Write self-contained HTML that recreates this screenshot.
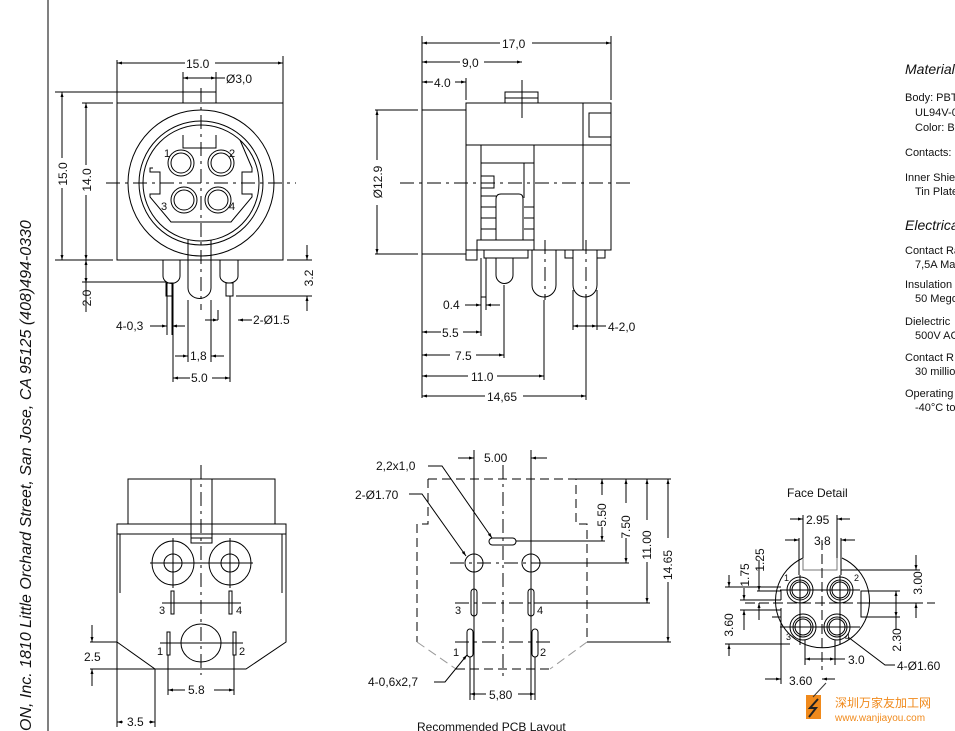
<!DOCTYPE html>
<html><head><meta charset="utf-8"><style>
html,body{margin:0;padding:0;background:#fff;width:955px;height:731px;overflow:hidden}
svg{display:block}
text{font-family:"Liberation Sans",Arial,sans-serif;fill:#111;font-size:12px}
.t{font-size:11px}
</style></head><body>
<svg width="955" height="731" viewBox="0 0 955 731" xmlns="http://www.w3.org/2000/svg">
<defs><marker id="a" viewBox="0 0 10 10" refX="10" refY="5" markerWidth="7" markerHeight="5" orient="auto-start-reverse"><path d="M0,2 L10,5 L0,8z" fill="#000"/></marker></defs>
<g stroke="#000" stroke-width="1" fill="none">
<line x1="48" y1="0" x2="48" y2="731"/>
<!-- TOP LEFT VIEW -->
<rect x="117" y="103" width="166" height="157"/>
<rect x="183" y="92" width="33" height="11"/>
<circle cx="201" cy="183" r="73"/>
<circle cx="201" cy="183" r="62"/>
<circle cx="201" cy="183" r="58"/>
<path d="M183,135 V148 H216 V135 M153,168 L150,168 V172 H160 V194 H150 V197 L171,222 H231 L252,197 V194 H242 V172 H252 V168 L240,140"/>
<g><circle cx="181" cy="163" r="13"/><circle cx="181" cy="163" r="10"/><circle cx="221" cy="163" r="13"/><circle cx="221" cy="163" r="10"/><circle cx="184" cy="200" r="13"/><circle cx="184" cy="200" r="10"/><circle cx="218" cy="200" r="13"/><circle cx="218" cy="200" r="10"/></g>
<path d="M188,240 V288 A11,10 0 0 0 211,288 V240"/>
<path d="M163,260 V276 A8,7 0 0 0 180,276 V260"/><path d="M220,260 V276 A9,7 0 0 0 238,276 V260"/>
<rect x="166" y="283" width="7" height="13"/><rect x="226" y="283" width="7" height="13"/>
<g stroke-dasharray="14,5,3,5"><line x1="201" y1="88" x2="201" y2="310"/><line x1="106" y1="183" x2="296" y2="183"/></g>
<line x1="117" y1="60" x2="117" y2="103"/><line x1="283" y1="56" x2="283" y2="103"/>
<line x1="117" y1="63" x2="185" y2="63" marker-start="url(#a)"/><line x1="215" y1="63" x2="283" y2="63" marker-end="url(#a)"/>
<line x1="183" y1="72" x2="183" y2="92"/><line x1="216" y1="72" x2="216" y2="92"/>
<line x1="183" y1="78" x2="216" y2="78" marker-start="url(#a)" marker-end="url(#a)"/><line x1="216" y1="78" x2="225" y2="78"/>
<line x1="55" y1="92" x2="183" y2="92"/><line x1="55" y1="260" x2="113" y2="260"/><line x1="82" y1="103" x2="113" y2="103"/>
<line x1="62" y1="92" x2="62" y2="158" marker-start="url(#a)"/><line x1="62" y1="188" x2="62" y2="260" marker-end="url(#a)"/>
<line x1="86" y1="103" x2="86" y2="165" marker-start="url(#a)"/><line x1="86" y1="195" x2="86" y2="260" marker-end="url(#a)"/>
<line x1="86" y1="260" x2="86" y2="283" marker-start="url(#a)" marker-end="url(#a)"/><line x1="86" y1="283" x2="86" y2="312"/>
<line x1="82" y1="282" x2="166" y2="282"/>
<line x1="287" y1="260" x2="312" y2="260"/><line x1="236" y1="296" x2="312" y2="296"/>
<line x1="307" y1="245" x2="307" y2="260" marker-end="url(#a)"/><line x1="307" y1="311" x2="307" y2="296" marker-end="url(#a)"/>
<line x1="167" y1="283" x2="167" y2="335"/><line x1="172" y1="283" x2="172" y2="335"/>
<line x1="150" y1="326" x2="167" y2="326" marker-end="url(#a)"/><line x1="185" y1="326" x2="172" y2="326" marker-end="url(#a)"/>
<line x1="188" y1="300" x2="188" y2="362"/><line x1="211" y1="300" x2="211" y2="362"/>
<line x1="173" y1="296" x2="173" y2="382"/><line x1="230" y1="296" x2="230" y2="382"/>
<line x1="175" y1="356" x2="188" y2="356" marker-end="url(#a)"/><line x1="224" y1="356" x2="211" y2="356" marker-end="url(#a)"/>
<line x1="173" y1="378" x2="190" y2="378" marker-start="url(#a)"/><line x1="212" y1="378" x2="230" y2="378" marker-end="url(#a)"/>
<line x1="205" y1="320" x2="218" y2="320" marker-end="url(#a)"/><line x1="218" y1="320" x2="218" y2="310"/>
<line x1="252" y1="320" x2="238" y2="320" marker-end="url(#a)"/>
<!-- TOP MIDDLE SIDE VIEW -->
<rect x="422" y="110" width="44" height="144"/>
<rect x="466" y="103" width="145" height="42"/>
<rect x="505" y="92" width="33" height="11"/>
<rect x="589" y="113" width="22" height="24"/>
<line x1="583" y1="103" x2="583" y2="250"/>
<rect x="466" y="145" width="145" height="105"/>
<line x1="481" y1="145" x2="481" y2="240"/><line x1="534" y1="145" x2="534" y2="250"/>
<path d="M466,250 V260 H477 V240 H534"/>
<line x1="481" y1="163" x2="534" y2="163"/><line x1="524" y1="163" x2="524" y2="198"/>
<g><line x1="481" y1="196" x2="496" y2="196"/><line x1="481" y1="207" x2="496" y2="207"/><line x1="481" y1="218" x2="496" y2="218"/><line x1="481" y1="229" x2="496" y2="229"/><line x1="524" y1="207" x2="534" y2="207"/><line x1="524" y1="218" x2="534" y2="218"/><line x1="524" y1="229" x2="534" y2="229"/></g>
<rect x="481" y="176" width="13" height="12"/>
<path d="M496,240 V199 Q496,194 501,194 H519 Q523,194 523,199 V240"/>
<rect x="484" y="250" width="44" height="8"/>
<rect x="565" y="250" width="8" height="8"/><rect x="597" y="250" width="8" height="8"/>
<path d="M496,258 V275 A8,8 0 0 0 513,275 V258"/>
<path d="M532,250 V285 A12,12 0 0 0 556,285 V250"/>
<path d="M573,250 V285 A12,12 0 0 0 597,285 V250"/>
<line x1="481" y1="258" x2="481" y2="297"/><line x1="486" y1="258" x2="486" y2="297"/><line x1="481" y1="297" x2="486" y2="297"/>
<g stroke-dasharray="14,5,3,5"><line x1="400" y1="183" x2="630" y2="183"/><line x1="545" y1="240" x2="545" y2="300"/><line x1="586" y1="240" x2="586" y2="300"/></g>
<line x1="522" y1="80" x2="522" y2="118"/><line x1="505" y1="98" x2="538" y2="98"/>
<line x1="422" y1="36" x2="422" y2="398"/><line x1="611" y1="36" x2="611" y2="100"/><line x1="466" y1="78" x2="466" y2="100"/>
<line x1="422" y1="43" x2="500" y2="43" marker-start="url(#a)"/><line x1="532" y1="43" x2="611" y2="43" marker-end="url(#a)"/>
<line x1="422" y1="62" x2="460" y2="62" marker-start="url(#a)"/><line x1="484" y1="62" x2="522" y2="62" marker-end="url(#a)"/>
<line x1="422" y1="82" x2="433" y2="82" marker-start="url(#a)"/><line x1="455" y1="82" x2="466" y2="82" marker-end="url(#a)"/>
<line x1="375" y1="110" x2="418" y2="110"/><line x1="375" y1="254" x2="418" y2="254"/>
<line x1="377" y1="110" x2="377" y2="160" marker-start="url(#a)"/><line x1="377" y1="205" x2="377" y2="254" marker-end="url(#a)"/>
<line x1="481" y1="297" x2="481" y2="336"/><line x1="486" y1="297" x2="486" y2="310"/>
<line x1="465" y1="305" x2="481" y2="305" marker-end="url(#a)"/><line x1="500" y1="305" x2="486" y2="305" marker-end="url(#a)"/>
<line x1="422" y1="332" x2="441" y2="332" marker-start="url(#a)"/><line x1="463" y1="332" x2="481" y2="332" marker-end="url(#a)"/>
<line x1="504" y1="285" x2="504" y2="358"/><line x1="544" y1="300" x2="544" y2="380"/><line x1="586" y1="300" x2="586" y2="400"/>
<line x1="422" y1="355" x2="450" y2="355" marker-start="url(#a)"/><line x1="476" y1="355" x2="504" y2="355" marker-end="url(#a)"/>
<line x1="422" y1="376" x2="468" y2="376" marker-start="url(#a)"/><line x1="497" y1="376" x2="544" y2="376" marker-end="url(#a)"/>
<line x1="422" y1="396" x2="485" y2="396" marker-start="url(#a)"/><line x1="523" y1="396" x2="586" y2="396" marker-end="url(#a)"/>
<line x1="573" y1="290" x2="573" y2="330"/><line x1="597" y1="290" x2="597" y2="330"/>
<line x1="573" y1="326" x2="597" y2="326" marker-start="url(#a)" marker-end="url(#a)"/><line x1="597" y1="326" x2="606" y2="326"/>
<!-- BOTTOM LEFT VIEW -->
<rect x="128" y="479" width="147" height="45"/>
<rect x="117" y="524" width="169" height="10"/>
<rect x="191" y="479" width="21" height="64"/><line x1="191" y1="538" x2="212" y2="538"/>
<path d="M117,534 V642 L155,669 H246 L286,642 V534"/>
<line x1="120" y1="534" x2="120" y2="593"/><line x1="282" y1="534" x2="282" y2="593"/>
<ellipse cx="173" cy="563" rx="21" ry="22"/><ellipse cx="173" cy="563" rx="9" ry="9"/>
<ellipse cx="230" cy="563" rx="21" ry="22"/><ellipse cx="230" cy="563" rx="9" ry="9"/>
<line x1="150" y1="563" x2="253" y2="563"/><line x1="173" y1="538" x2="173" y2="588"/><line x1="230" y1="538" x2="230" y2="588"/>
<rect x="171" y="591" width="3" height="23"/><rect x="229" y="591" width="3" height="23"/>
<rect x="167" y="632" width="3" height="23"/><rect x="233" y="632" width="3" height="23"/>
<ellipse cx="201" cy="643" rx="20" ry="19"/>
<line x1="162" y1="603" x2="241" y2="603"/><line x1="160" y1="643" x2="243" y2="643"/>
<g stroke-dasharray="14,5,3,5"><line x1="201" y1="465" x2="201" y2="675"/></g>
<line x1="90" y1="642" x2="117" y2="642"/><line x1="90" y1="669" x2="155" y2="669"/>
<line x1="92" y1="625" x2="92" y2="642" marker-end="url(#a)"/><line x1="92" y1="686" x2="92" y2="669" marker-end="url(#a)"/>
<line x1="117" y1="642" x2="117" y2="727"/><line x1="155" y1="669" x2="155" y2="727"/>
<line x1="117" y1="722" x2="123" y2="722" marker-start="url(#a)"/><line x1="149" y1="722" x2="155" y2="722" marker-end="url(#a)"/>
<line x1="168" y1="655" x2="168" y2="695"/><line x1="234" y1="655" x2="234" y2="695"/>
<line x1="168" y1="690" x2="185" y2="690" marker-start="url(#a)"/><line x1="214" y1="690" x2="234" y2="690" marker-end="url(#a)"/>
<!-- PCB LAYOUT -->
<g stroke-dasharray="9,5"><path d="M428,479 H576 V524 H587 V642 M428,479 V524 H417 V642 M456,669 H550"/></g>
<path d="M417,642 L456,669 M587,642 L550,669" stroke="#999" stroke-dasharray="9,5"/>
<rect x="489" y="538" width="27" height="7" rx="3.5"/>
<ellipse cx="474" cy="563" rx="9" ry="9"/><ellipse cx="531" cy="563" rx="9" ry="9"/>
<rect x="471" y="589" width="6" height="27" rx="3"/><rect x="528" y="589" width="6" height="27" rx="3"/>
<rect x="467" y="629" width="6" height="28" rx="3"/><rect x="532" y="629" width="6" height="28" rx="3"/>
<g stroke-dasharray="14,5,3,5"><line x1="503" y1="465" x2="503" y2="680"/><line x1="450" y1="563" x2="555" y2="563"/><line x1="455" y1="603" x2="550" y2="603"/><line x1="455" y1="642" x2="550" y2="642"/></g>
<line x1="474" y1="450" x2="474" y2="700"/><line x1="531" y1="450" x2="531" y2="700"/>
<line x1="516" y1="541" x2="605" y2="541"/><line x1="540" y1="563" x2="629" y2="563"/><line x1="534" y1="603" x2="650" y2="603"/><line x1="587" y1="642" x2="671" y2="642"/>
<line x1="576" y1="479" x2="671" y2="479"/>
<line x1="602" y1="479" x2="602" y2="495" marker-start="url(#a)"/><line x1="602" y1="527" x2="602" y2="541" marker-end="url(#a)"/>
<line x1="626" y1="479" x2="626" y2="503" marker-start="url(#a)"/><line x1="626" y1="538" x2="626" y2="563" marker-end="url(#a)"/>
<line x1="647" y1="479" x2="647" y2="520" marker-start="url(#a)"/><line x1="647" y1="562" x2="647" y2="603" marker-end="url(#a)"/>
<line x1="668" y1="479" x2="668" y2="538" marker-start="url(#a)"/><line x1="668" y1="582" x2="668" y2="642" marker-end="url(#a)"/>
<line x1="458" y1="458" x2="474" y2="458" marker-end="url(#a)"/><line x1="547" y1="458" x2="531" y2="458" marker-end="url(#a)"/>
<line x1="470" y1="657" x2="470" y2="700"/><line x1="535" y1="657" x2="535" y2="700"/>
<line x1="470" y1="694" x2="486" y2="694" marker-start="url(#a)"/><line x1="518" y1="694" x2="535" y2="694" marker-end="url(#a)"/>
<path d="M428,466 H442 L492,538" marker-end="url(#a)"/>
<path d="M409,494 H422 L466,556" marker-end="url(#a)"/>
<path d="M434,682 H445 L467,655" marker-end="url(#a)"/>
<!-- FACE DETAIL -->
<path d="M803,558 A47,47 0 1 0 842,558"/>
<path d="M803,558 V570 H837 V558" stroke="#777"/>
<path d="M772,591 H781 V600 M772,617 H781 V608" />
<path d="M872,591 H861 V617 H872"/>
<g><circle cx="800" cy="590" r="13"/><circle cx="800" cy="590" r="10"/><circle cx="800" cy="590" r="8"/>
<circle cx="840" cy="590" r="13"/><circle cx="840" cy="590" r="10"/><circle cx="840" cy="590" r="8"/>
<circle cx="803" cy="627" r="13"/><circle cx="803" cy="627" r="10"/><circle cx="803" cy="627" r="8"/>
<circle cx="837" cy="627" r="13"/><circle cx="837" cy="627" r="10"/><circle cx="837" cy="627" r="8"/></g>
<line x1="822" y1="540" x2="822" y2="670" stroke-dasharray="10,4"/>
<line x1="745" y1="603" x2="935" y2="603" stroke-dasharray="10,4"/>
<line x1="780" y1="590" x2="860" y2="590"/><line x1="780" y1="627" x2="860" y2="627"/>
<line x1="800" y1="575" x2="800" y2="645"/><line x1="840" y1="575" x2="840" y2="645"/>
<line x1="803" y1="515" x2="803" y2="558"/><line x1="837" y1="515" x2="837" y2="558"/>
<line x1="790" y1="519" x2="803" y2="519" marker-end="url(#a)"/><line x1="850" y1="519" x2="837" y2="519" marker-end="url(#a)"/>
<line x1="799" y1="538" x2="799" y2="575"/><line x1="841" y1="538" x2="841" y2="575"/>
<line x1="785" y1="540" x2="799" y2="540" marker-end="url(#a)"/><line x1="855" y1="540" x2="841" y2="540" marker-end="url(#a)"/>
<line x1="841" y1="570" x2="920" y2="570"/><line x1="866" y1="603" x2="920" y2="603"/>
<line x1="916" y1="555" x2="916" y2="570" marker-end="url(#a)"/><line x1="916" y1="618" x2="916" y2="603" marker-end="url(#a)"/>
<line x1="861" y1="591" x2="900" y2="591"/><line x1="866" y1="617" x2="900" y2="617"/>
<line x1="896" y1="591" x2="896" y2="617" marker-start="url(#a)" marker-end="url(#a)"/><line x1="896" y1="617" x2="896" y2="630"/>
<line x1="805" y1="665" x2="805" y2="640"/><line x1="835" y1="665" x2="835" y2="640"/>
<line x1="805" y1="659" x2="835" y2="659" marker-start="url(#a)" marker-end="url(#a)"/><line x1="835" y1="659" x2="845" y2="659"/>
<line x1="781" y1="610" x2="781" y2="684"/>
<line x1="765" y1="679" x2="781" y2="679" marker-end="url(#a)"/><line x1="835" y1="679" x2="822" y2="679" marker-end="url(#a)"/>
<line x1="725" y1="587" x2="781" y2="587"/><line x1="725" y1="644" x2="790" y2="644"/>
<line x1="729" y1="575" x2="729" y2="587" marker-end="url(#a)"/><line x1="729" y1="656" x2="729" y2="644" marker-end="url(#a)"/>
<line x1="740" y1="600" x2="781" y2="600"/><line x1="740" y1="610" x2="781" y2="610"/>
<line x1="744" y1="588" x2="744" y2="600" marker-end="url(#a)"/><line x1="744" y1="630" x2="744" y2="610" marker-end="url(#a)"/>
<line x1="759" y1="560" x2="759" y2="591" marker-end="url(#a)"/><line x1="759" y1="620" x2="759" y2="603" marker-end="url(#a)"/>
<line x1="757" y1="591" x2="781" y2="591"/>
<path d="M848,637 L885,665 H895"/>
</g>
<!-- LOGO -->
<rect x="806" y="695" width="15" height="24" fill="#f08a1c"/>
<path d="M818,699 L810,708 H816 L809,717" stroke="#222" stroke-width="2" fill="none"/>
<line x1="813" y1="697" x2="826" y2="683" stroke="#333"/>
<text x="835" y="707" style="font-family:'Liberation Sans','Noto Sans CJK SC',sans-serif;font-size:12px;fill:#f08a1c">深圳万家友加工网</text>
<text x="835" y="721" style="font-size:10px;fill:#f08a1c">www.wanjiayou.com</text>
<!-- TEXT LABELS -->
<text x="186" y="68">15.0</text>
<text x="226" y="83">Ø3,0</text>
<text transform="translate(67,174) rotate(-90)" text-anchor="middle">15.0</text>
<text transform="translate(91,180) rotate(-90)" text-anchor="middle">14.0</text>
<text transform="translate(91,298) rotate(-90)" text-anchor="middle">2.0</text>
<text transform="translate(313,278) rotate(-90)" text-anchor="middle">3.2</text>
<text x="164" y="157" class="t">1</text><text x="229" y="157" class="t">2</text><text x="161" y="210" class="t">3</text><text x="229" y="210" class="t">4</text>
<text x="116" y="330">4-0,3</text>
<text x="253" y="324">2-Ø1.5</text>
<text x="190" y="360">1,8</text>
<text x="191" y="382">5.0</text>
<text x="502" y="48">17,0</text>
<text x="462" y="67">9,0</text>
<text x="434" y="87">4.0</text>
<text transform="translate(382,182) rotate(-90)" text-anchor="middle">Ø12.9</text>
<text x="443" y="309">0.4</text>
<text x="442" y="337">5.5</text>
<text x="455" y="360">7.5</text>
<text x="471" y="381">11.0</text>
<text x="487" y="401">14,65</text>
<text x="608" y="331">4-2,0</text>
<text x="159" y="614" class="t">3</text><text x="236" y="614" class="t">4</text>
<text x="157" y="655" class="t">1</text><text x="239" y="655" class="t">2</text>
<text x="84" y="661">2.5</text>
<text x="188" y="694">5.8</text>
<text x="127" y="726">3.5</text>
<text x="484" y="462">5.00</text>
<text x="376" y="470">2,2x1,0</text>
<text x="355" y="499">2-Ø1.70</text>
<text transform="translate(606,515) rotate(-90)" text-anchor="middle">5.50</text>
<text transform="translate(630,527) rotate(-90)" text-anchor="middle">7.50</text>
<text transform="translate(651,545) rotate(-90)" text-anchor="middle">11.00</text>
<text transform="translate(672,565) rotate(-90)" text-anchor="middle">14.65</text>
<text x="455" y="614" class="t">3</text><text x="537" y="614" class="t">4</text>
<text x="453" y="656" class="t">1</text><text x="540" y="656" class="t">2</text>
<text x="368" y="686">4-0,6x2,7</text>
<text x="489" y="699">5,80</text>
<text x="417" y="731">Recommended PCB Layout</text>
<text x="787" y="497">Face Detail</text>
<text x="806" y="524">2.95</text>
<text x="814" y="545">3.8</text>
<text transform="translate(764,560) rotate(-90)" text-anchor="middle">1.25</text>
<text transform="translate(749,575) rotate(-90)" text-anchor="middle">1.75</text>
<text transform="translate(733,625) rotate(-90)" text-anchor="middle">3.60</text>
<text transform="translate(922,583) rotate(-90)" text-anchor="middle">3.00</text>
<text transform="translate(901,640) rotate(-90)" text-anchor="middle">2.30</text>
<text x="848" y="664">3.0</text>
<text x="897" y="670">4-Ø1.60</text>
<text x="789" y="685">3.60</text>
<text x="784" y="581" style="font-size:9px">1</text><text x="854" y="581" style="font-size:9px">2</text>
<text x="786" y="640" style="font-size:9px">3</text><text x="845" y="640" style="font-size:9px">4</text>
<text x="905" y="74" style="font-size:14px;font-style:italic">Materials</text>
<text x="905" y="101" class="t">Body: PBT</text>
<text x="915" y="116" class="t">UL94V-0</text>
<text x="915" y="131" class="t">Color: Black</text>
<text x="905" y="156" class="t">Contacts:</text>
<text x="905" y="181" class="t">Inner Shield</text>
<text x="915" y="195" class="t">Tin Plated</text>
<text x="905" y="230" style="font-size:14px;font-style:italic">Electrical</text>
<text x="905" y="254" class="t">Contact Rating</text>
<text x="915" y="268" class="t">7,5A Max</text>
<text x="905" y="288" class="t">Insulation</text>
<text x="915" y="302" class="t">50 Megohm</text>
<text x="905" y="325" class="t">Dielectric</text>
<text x="915" y="339" class="t">500V AC</text>
<text x="905" y="361" class="t">Contact R</text>
<text x="915" y="375" class="t">30 milliohm</text>
<text x="905" y="397" class="t">Operating</text>
<text x="915" y="411" class="t">-40°C to</text>
<text transform="translate(31,731) rotate(-90)" style="font-size:16px;font-style:italic">ON, Inc. 1810 Little Orchard Street, San Jose, CA 95125 (408)494-0330</text>
</svg>
</body></html>
